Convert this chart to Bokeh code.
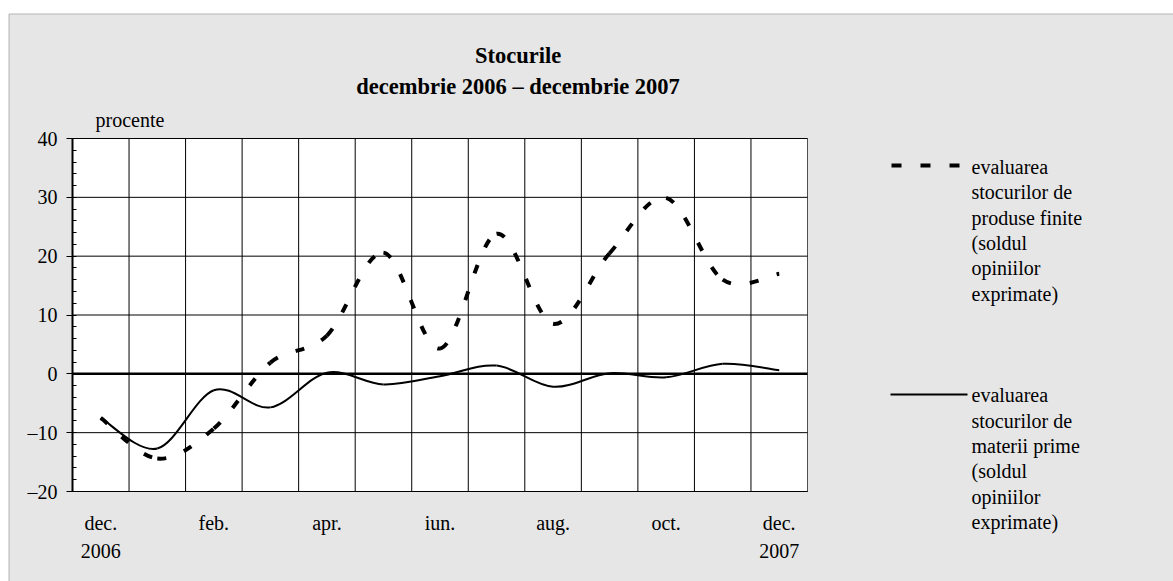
from bokeh.plotting import figure
from bokeh.models import FixedTicker, Label, Range1d, BoxAnnotation
from bokeh.embed import file_html
from bokeh.resources import INLINE

# ---- data ----
months = ["dec.", "ian.", "feb.", "mar.", "apr.", "mai", "iun.", "iul.", "aug.", "sep.", "oct.", "nov.", "dec."]
finite = [-7.5, -14.4, -9.3, 1.9, 6.5, 20.6, 4.3, 23.8, 8.5, 20.5, 29.9, 16.0, 17.0]
raw = [-7.5, -12.7, -2.8, -5.7, 0.2, -1.8, -0.4, 1.4, -2.2, 0.1, -0.6, 1.7, 0.6]
y_ticks = [-20, -10, 0, 10, 20, 30, 40]
x_label_idx = [0, 2, 4, 6, 8, 10, 12]
years = {0: "2006", 12: "2007"}
title_lines = ["Stocurile", "decembrie 2006 \u2013 decembrie 2007"]
unit_label = "procente"
legend_finite = ["evaluarea", "stocurilor de", "produse finite", "(soldul", "opiniilor", "exprimate)"]
legend_raw = ["evaluarea", "stocurilor de", "materii prime", "(soldul", "opiniilor", "exprimate)"]

FONT = "Liberation Serif"
BG = "#e6e6e6"
n = len(months)
W, H = 1173, 581

# page layout of the plot area (pixels)
PL, PR, PT, PB = 72, 807, 138, 491
XPER = (PR - PL) / n
YPER = (PB - PT) / (y_ticks[-1] - y_ticks[0])
TEXT_SHIFT = -7


def px2x(px):
    return (px - PL) / XPER - 0.5


def py2y(py):
    return y_ticks[0] + (PB - py) / YPER


p = figure(width=W, height=H,
           x_range=Range1d(px2x(0), px2x(W)), y_range=Range1d(py2y(H), py2y(0)),
           output_backend="svg", toolbar_location=None, min_border=0)
p.background_fill_color = "white"
p.border_fill_color = "white"
p.outline_line_color = None
p.grid.visible = False

# grey chart area with thin border, and white plot area
p.add_layout(BoxAnnotation(left=px2x(8.5), right=px2x(W + 10), top=py2y(13.5), bottom=py2y(H + 10),
                           fill_color=BG, fill_alpha=1, line_color="#b4b4b4", line_alpha=1, line_width=1,
                           level="underlay"))
p.add_layout(BoxAnnotation(left=-0.5, right=n - 0.5, bottom=y_ticks[0], top=y_ticks[-1],
                           fill_color="white", fill_alpha=1, line_color="#505050", line_alpha=1, line_width=1,
                           level="underlay"))

# grid lines
vx = [i + 0.5 for i in range(n - 1)]
p.segment(x0=vx, y0=[y_ticks[0]] * len(vx), x1=vx, y1=[y_ticks[-1]] * len(vx), line_color="black", line_width=1)
hy = [v for v in y_ticks if v != 0]
p.segment(x0=[-0.5] * len(hy), y0=hy, x1=[n - 0.5] * len(hy), y1=hy, line_color="black", line_width=1)
p.segment(x0=[-0.5], y0=[0], x1=[n - 0.5], y1=[0], line_color="black", line_width=2.5)

# y axis
p.yaxis.fixed_location = -0.5
p.yaxis.bounds = (y_ticks[0], y_ticks[-1])
p.yaxis.ticker = FixedTicker(ticks=y_ticks, minor_ticks=list(range(-20, 41, 2)))
p.yaxis.major_label_overrides = {v: (("\u2013" + str(-v)) if v < 0 else str(v)) for v in y_ticks}
p.yaxis.major_tick_out = 6
p.yaxis.major_tick_in = 0
p.yaxis.minor_tick_in = 4
p.yaxis.minor_tick_out = 0
p.yaxis.axis_line_width = 2
p.yaxis.axis_line_color = "black"
p.yaxis.major_tick_line_color = "black"
p.yaxis.minor_tick_line_color = "black"
p.yaxis.major_label_standoff = 9
p.yaxis.major_label_text_font = FONT
p.yaxis.major_label_text_font_size = "20px"
p.yaxis.major_label_text_color = "black"

# x axis
p.xaxis.fixed_location = y_ticks[0]
p.xaxis.bounds = (-0.5, n - 0.5)
p.xaxis.ticker = FixedTicker(ticks=x_label_idx)
p.xaxis.major_label_overrides = {i: (months[i] + ("\n" + years[i] if i in years else "")) for i in x_label_idx}
p.xaxis.major_tick_out = 0
p.xaxis.major_tick_in = 0
p.xaxis.minor_tick_line_color = None
p.xaxis.axis_line_color = "black"
p.xaxis.axis_line_width = 1
p.xaxis.major_label_standoff = 20
p.xaxis.major_label_text_font = FONT
p.xaxis.major_label_text_font_size = "20px"
p.xaxis.major_label_text_color = "black"
p.xaxis.major_label_text_line_height = 1.3


def bezier_parts(vals):
    pts = [(float(i), float(v)) for i, v in enumerate(vals)]
    ext = [pts[0]] + pts + [pts[-1]]
    d = dict(x0=[], y0=[], x1=[], y1=[], cx0=[], cy0=[], cx1=[], cy1=[])
    for i in range(len(pts) - 1):
        a, b, c, e = ext[i], ext[i + 1], ext[i + 2], ext[i + 3]
        d["x0"].append(b[0]); d["y0"].append(b[1])
        d["x1"].append(c[0]); d["y1"].append(c[1])
        d["cx0"].append(b[0] + (c[0] - a[0]) / 6); d["cy0"].append(b[1] + (c[1] - a[1]) / 6)
        d["cx1"].append(c[0] - (e[0] - b[0]) / 6); d["cy1"].append(c[1] - (e[1] - b[1]) / 6)
    return d


p.bezier(**bezier_parts(raw), line_color="black", line_width=2)
p.bezier(**bezier_parts(finite), line_color="black", line_width=4, line_dash="9 19")


def text(px, py, s, size="20px", align="left", bold=False):
    p.add_layout(Label(x=px2x(px), y=py2y(py + TEXT_SHIFT), text=s, text_align=align, text_baseline="alphabetic",
                       text_font=FONT, text_font_size=size, text_color="black",
                       text_font_style="bold" if bold else "normal"))


# title and unit
text(517.5, 62.3, title_lines[0], size="22.5px", align="center", bold=True)
text(517.5, 93.3, title_lines[1], size="22.5px", align="center", bold=True)
text(95, 126, unit_label)

# legend
p.line([px2x(891), px2x(959)], [py2y(165)] * 2, line_color="black", line_width=4, line_dash="10 19")
p.line([px2x(890), px2x(967)], [py2y(394)] * 2, line_color="black", line_width=2)
for lines, base in ((legend_finite, 173.3), (legend_raw, 401.7)):
    for k, s in enumerate(lines):
        text(971, base + k * 25.4, s)

open("out.html", "w").write(file_html(p, INLINE))
